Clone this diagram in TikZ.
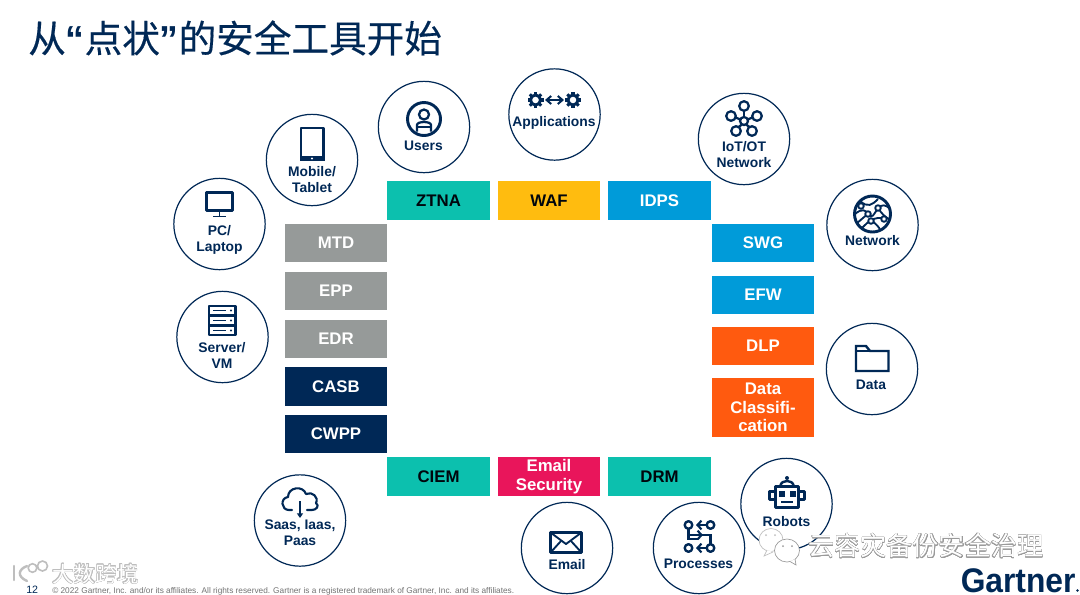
\documentclass[tikz,border=0pt]{standalone}
\usepackage{fontspec}
\setmainfont{Liberation Sans}
\newfontfamily\cjk{Noto Sans CJK SC}
\newfontfamily\cjktitle[FakeBold=0.35]{Noto Sans CJK SC}
\usepackage{contour}
\contourlength{0.22pt}
\usetikzlibrary{arrows.meta}
\definecolor{navy}{HTML}{002856}
\definecolor{tealb}{HTML}{0CC0AE}
\definecolor{goldb}{HTML}{FFBC0F}
\definecolor{blueb}{HTML}{009BD9}
\definecolor{orangeb}{HTML}{FF5A0F}
\definecolor{redb}{HTML}{E9155B}
\definecolor{greyb}{HTML}{969A99}
\definecolor{wm}{HTML}{9A9A9A}
\definecolor{wmlight}{HTML}{BEBEBE}
\tikzset{
  x=0.75pt,y=-0.75pt,
  box/.style={rectangle,minimum width=76.8pt,minimum height=29pt,inner sep=0pt,align=center,
     font=\bfseries\fontsize{12.6}{13.8}\selectfont},
  whitebox/.style={box,text=white},
  darkbox/.style={box,text=black!85!navy},
  hub/.style={circle,draw=navy,line width=0.9pt,minimum size=68.5pt,inner sep=0pt},
  hublabel/.style={inner sep=0pt,align=center,text=navy,font=\bfseries\fontsize{10.4}{12}\selectfont},
  ico/.style={draw=navy,line width=1.8pt,line join=round}
}
\begin{document}
\begin{tikzpicture}
\useasboundingbox (0,0) rectangle (1080,594);
\fill[white] (0,0) rectangle (1080,594);

% title
\node[anchor=west,inner sep=0pt,text=navy,font=\cjktitle\fontsize{28.2}{32}\selectfont] (title) at (28,38) {从{\rmfamily\bfseries “}点状{\rmfamily\bfseries ”}的安全工具开始};

% boxes
\node[darkbox,fill=tealb] (ztna) at (438.5,200.5) {ZTNA};
\node[darkbox,fill=goldb] (waf) at (549,200.5) {WAF};
\node[whitebox,fill=blueb] (idps) at (659.5,200.5) {IDPS};
\node[whitebox,fill=blueb] (swg) at (763,243) {SWG};
\node[whitebox,fill=blueb] (efw) at (763,295) {EFW};
\node[whitebox,fill=orangeb] (dlp) at (763,346) {DLP};
\node[whitebox,fill=orangeb,minimum height=44.5pt] (dc) at (763,407.5) {Data\\Classifi-\\cation};
\node[whitebox,fill=greyb] (mtd) at (336,243) {MTD};
\node[whitebox,fill=greyb] (epp) at (336,291) {EPP};
\node[whitebox,fill=greyb] (edr) at (336,339) {EDR};
\node[whitebox,fill=navy] (casb) at (336,386.5) {CASB};
\node[whitebox,fill=navy] (cwpp) at (336,434) {CWPP};
\node[darkbox,fill=tealb] (ciem) at (438.5,476.5) {CIEM};
\node[whitebox,fill=redb] (emailsec) at (549,476.5) {Email\\Security};
\node[darkbox,fill=tealb] (drm) at (659.5,476.5) {DRM};

% hubs
\node[hub] (users) at (424,127) {};
\node[hub] (apps) at (554.5,114.5) {};
\node[hub] (iot) at (744,139) {};
\node[hub] (mobile) at (312,160) {};
\node[hub] (pc) at (219.5,224) {};
\node[hub] (server) at (222.5,337) {};
\node[hub] (network) at (872.5,225) {};
\node[hub] (datah) at (872,369) {};
\node[hub] (saas) at (300,520.5) {};
\node[hub] (email) at (567,548) {};
\node[hub] (proc) at (699,548) {};
\node[hub] (robots) at (786.5,504) {};

% hub labels
\node[hublabel] (l1) at (423.5,146) {Users};
\node[hublabel] (l2) at (554,122.5) {Applications};
\node[hublabel] (l3) at (744,155) {IoT/OT\\Network};
\node[hublabel] (l4) at (312,180) {Mobile/\\Tablet};
\node[hublabel] (l5) at (219.5,239.5) {PC/\\Laptop};
\node[hublabel] (l6) at (222,355.5) {Server/\\VM};
\node[hublabel] (l7) at (872.5,241) {Network};
\node[hublabel] (l8) at (871,384.5) {Data};
\node[hublabel] (l9) at (300,533) {Saas, Iaas,\\Paas};
\node[hublabel] (l10) at (567,564.5) {Email};
\node[hublabel] (l11) at (698.5,564) {Processes};
\node[hublabel] (l12) at (786.5,521.5) {Robots};

% --- icons ---
% users
\draw[ico,line width=2.2pt] (424,119) circle[radius=16.5];
\draw[ico,line width=1.7pt] (424,114.5) circle[radius=5];
\draw[ico,line width=1.7pt] (417,131.5) -- (417,125) .. controls (417,121) and (431,121) .. (431,125) -- (431,131.5);
\draw[ico,line width=1.5pt] (417,127) -- (431,127);
% applications: gears and arrow
\foreach \gx in {535.5,573}{
  \draw[navy,line width=2.2pt] (\gx,100) circle[radius=5];
  \foreach \a in {0,45,...,315}
    \draw[navy,line width=2.3pt] (\gx,100) ++(\a:5) -- ++(\a:3);
}
\draw[navy,line width=1.5pt,{Straight Barb[length=3.5pt,width=6pt]}-{Straight Barb[length=3.5pt,width=6pt]}] (545,100) -- (564,100);
% iot
\draw[ico,line width=1.7pt] (744,121) circle[radius=4];
\foreach \px/\py in {744/106,731/116,757/116,736/131,752/131}{
  \draw[ico,line width=1.7pt] (\px,\py) circle[radius=4.8];
}
\draw[ico,line width=1.7pt] (744,117) -- (744,111);
\draw[ico,line width=1.7pt] (740.5,119.5) -- (735.5,117.5);
\draw[ico,line width=1.7pt] (747.5,119.5) -- (752.5,117.5);
\draw[ico,line width=1.7pt] (742,124.5) -- (738.5,127);
\draw[ico,line width=1.7pt] (746,124.5) -- (749.5,127);
% mobile
\draw[ico,line width=1.7pt] (301,128) rectangle (323.5,160);
\fill[navy] (300,156) rectangle (324.5,161);
\fill[white] (312,158.5) circle[radius=1.2];
% pc
\draw[ico,line width=1.6pt] (206.5,192.5) rectangle (232.5,210.5);
\draw[ico,line width=1.4pt] (219.5,210.5) -- (219.5,216.5);
\draw[ico,line width=1.4pt] (213,216.5) -- (226,216.5);
% server
\draw[ico] (209,306) rectangle (235.5,335);
\draw[ico,line width=1.6pt] (209,315.5) -- (235.5,315.5);
\draw[ico,line width=1.6pt] (209,325.5) -- (235.5,325.5);
\foreach \sy in {310.5,320.5,330.5}{
  \draw[navy,line width=1.3pt] (213,\sy) -- (226,\sy);
  \fill[navy] (231,\sy) circle[radius=1.2];
}
% network globe
\draw[ico,line width=2.2pt] (872.5,214) circle[radius=18];
\draw[ico,line width=1.4pt] (860,201) .. controls (868,208) and (872,205) .. (878,199);
\draw[ico,line width=1.4pt] (855,214) .. controls (862,208) and (866,210) .. (868,214) .. controls (872,220) and (874,214) .. (878,208) .. controls (882,204) and (886,205) .. (889,208);
\draw[ico,line width=1.4pt] (857,223) .. controls (862,219) and (865,216) .. (868,214);
\draw[ico,line width=1.4pt] (862,228) .. controls (866,224) and (868,222) .. (871,220) .. controls (876,224) and (880,228) .. (880,230);
\draw[ico,line width=1.4pt] (878,208) .. controls (882,214) and (885,217) .. (889,219);
\draw[ico,line width=1.4pt] (871,220) .. controls (876,218) and (880,217) .. (884,219);
\foreach \nx/\ny in {868/214,878/208,871/221,884/219,861/206}{
  \fill[white] (\nx,\ny) circle[radius=2.8];
  \draw[ico,line width=1.4pt] (\nx,\ny) circle[radius=2.8];
}
% data folder
\draw[ico,line join=miter] (856,371) -- (856,346) -- (866,346) -- (870,351) -- (888.5,351) -- (888.5,371) -- cycle;
\draw[ico,line width=1.4pt] (856,351) -- (870,351);
% saas cloud
\draw[ico,line width=1.6pt,line cap=round] (292,510) -- (289,510) .. controls (281,510) and (280,498) .. (288,497) .. controls (288,487) and (303,485) .. (306,494) .. controls (312,491) and (319,497) .. (316,503) .. controls (320,506) and (316,510) .. (312,510) -- (307,510);
\draw[navy,line width=1.5pt,-{Triangle[length=3.5pt,width=4.5pt]}] (300,501) -- (300,518);
% email envelope
\draw[ico] (550.5,532.5) rectangle (581.5,552.5);
\draw[ico,line width=1.4pt] (550.5,532.5) -- (566,544) -- (581.5,532.5);
\draw[ico,line width=1.4pt] (550.5,552.5) -- (561,541);
\draw[ico,line width=1.4pt] (581.5,552.5) -- (571,541);
% processes
\foreach \qx/\qy in {688.5/525,710.5/525,688.5/548,710.5/548}
  \draw[ico,line width=1.8pt] (\qx,\qy) circle[radius=3.8];
\draw[navy,line width=1.6pt,-{Straight Barb[length=3pt,width=6.5pt]}] (706.5,525) -- (696,525);
\draw[navy,line width=1.6pt,-{Straight Barb[length=3pt,width=6.5pt]}] (706.5,548) -- (696,548);
\draw[navy,line width=1.6pt,-{Straight Barb[length=3pt,width=6.5pt]}] (688.5,529) -- (688.5,535) -- (703,535);
\draw[navy,line width=1.6pt] (688.5,535) -- (688.5,539) -- (698,539);
\draw[navy,line width=1.6pt] (701,535) -- (710.5,535) -- (710.5,544);
% robots
\draw[ico] (775.5,486.5) rectangle (798.5,507.5);
\draw[ico,line width=1.8pt] (775.5,491.5) -- (769.5,491.5) -- (769.5,499.5) -- (775.5,499.5);
\draw[ico,line width=1.8pt] (798.5,491.5) -- (804.5,491.5) -- (804.5,499.5) -- (798.5,499.5);
\draw[ico,line width=1.8pt] (780,486.5) .. controls (781,482) and (784,481) .. (787,481) .. controls (790,481) and (793,482) .. (794,486.5);
\fill[navy] (787,478) circle[radius=2];
\fill[navy] (779,491) rectangle (785,497);
\fill[navy] (790,491) rectangle (796,497);
\draw[navy,line width=1.5pt] (781,502) -- (793,502);

% footer
\node[anchor=base west,inner sep=0pt,font=\fontsize{8}{9}\selectfont,text=navy] (pg) at (26,593.5) {12};
\node[anchor=base west,inner sep=0pt,font=\fontsize{6.2}{7}\selectfont,text=black!55] (copy) at (52,593) {© 2022 Gartner, Inc. and/or its affiliates. All rights reserved. Gartner is a registered trademark of Gartner, Inc. and its affiliates.};
\node[anchor=base west,inner sep=0pt,font=\bfseries\fontsize{25.6}{28}\selectfont,text=navy] (gart) at (960.5,592) {\scalebox{.93}[1]{Gartner}};
\fill[navy] (1077.5,590.5) circle[radius=1.4];

% wechat bubbles
\draw[wmlight,fill=white,line width=0.5pt] (771,540) ellipse[x radius=12,y radius=11.5];
\draw[wmlight,fill=white,line width=0.5pt] (767,550) -- (764,556) -- (773,552);
\draw[wm,fill=white,line width=0.5pt] (787,550.5) ellipse[x radius=12.5,y radius=11.5];
\draw[wm,fill=white,line width=0.5pt] (790,561.5) -- (796,565) -- (795,559);
\fill[wmlight] (766,535) circle[radius=1] (775,535) circle[radius=1];
\fill[wm] (783,546) circle[radius=1] (792,546) circle[radius=1];

% watermarks
\node[anchor=west,inner sep=0pt,font=\cjk\fontsize{19.6}{22}\selectfont,text=white] (wm1) at (808,546) {\contour{wm}{云容灾备份安全治理}};
\node[anchor=west,inner sep=0pt,font=\cjk\fontsize{16.2}{18}\selectfont,text=white] (wm2) at (52,574) {\contour{wmlight}{大数跨境}};
% k100 logo
\draw[wmlight,line width=1.8pt,line cap=round] (14,566) -- (14,580);
\draw[wmlight,line width=1.8pt,line cap=round] (27,566) .. controls (19,569) and (16,576) .. (27,581);
\draw[wmlight,line width=1.2pt] (32.5,568) circle[radius=4.3] (42.5,566) circle[radius=5];
\end{tikzpicture}
\end{document}
